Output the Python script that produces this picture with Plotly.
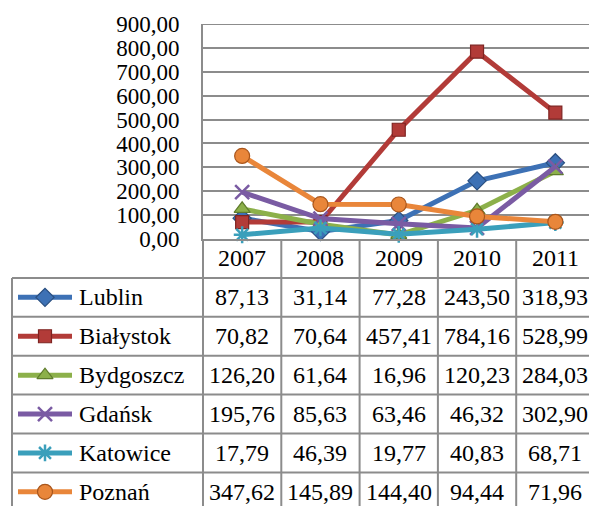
import plotly.graph_objects as go

# ---- data ----
years = ["2007", "2008", "2009", "2010", "2011"]
cities = ["Lublin", "Białystok", "Bydgoszcz", "Gdańsk", "Katowice", "Poznań"]
lublin = [87.13, 31.14, 77.28, 243.50, 318.93]
bialystok = [70.82, 70.64, 457.41, 784.16, 528.99]
bydgoszcz = [126.20, 61.64, 16.96, 120.23, 284.03]
gdansk = [195.76, 85.63, 63.46, 46.32, 302.90]
katowice = [17.79, 46.39, 19.77, 40.83, 68.71]
poznan = [347.62, 145.89, 144.40, 94.44, 71.96]
series = [lublin, bialystok, bydgoszcz, gdansk, katowice, poznan]
y_ticks = [0, 100, 200, 300, 400, 500, 600, 700, 800, 900]

# ---- styling ----
W, H = 589, 506
FONT = "Liberation Serif, serif"
FS = 24
FS_TICK = 23
GRID = "#8c8c8c"
colors = ["#3d71b5", "#b23b38", "#8cb04a", "#7a5ba3", "#3a9fbb", "#e9863a"]
edges = ["#2a4f80", "#7e2422", "#5f7c2c", "#54397a", "#227288", "#a9561c"]
symbols = ["diamond", "square", "triangle-up", "x-thin-open", "asterisk-open", "circle"]
msizes = [14, 13, 14, 14, 14, 15]

# pixel geometry of plot and data table
PLOT_L, PLOT_T, PLOT_B = 203, 24, 239
COL_W = 78.3
ROW_H = 38.9
TABLE_L = 12
LEG_X0, LEG_X1, LEG_TXT = 18, 72, 77

x_idx = list(range(len(years)))
x_max = -0.5 + (W - PLOT_L) / COL_W


def marker_style(i):
    if symbols[i].endswith("open"):
        return dict(symbol=symbols[i], size=msizes[i], color=colors[i],
                    line=dict(color=colors[i], width=2.5))
    return dict(symbol=symbols[i], size=msizes[i], color=colors[i],
                line=dict(color=edges[i], width=1.2))


fig = go.Figure()

for i, (name, vals) in enumerate(zip(cities, series)):
    fig.add_trace(go.Scatter(
        x=x_idx, y=vals, name=name, mode="lines+markers",
        line=dict(color=colors[i], width=5),
        marker=marker_style(i),
        xaxis="x", yaxis="y", showlegend=False, cliponaxis=False,
    ))

# row boundaries / centres (pixels) of the data table
row_top = [PLOT_B + ROW_H * k for k in range(len(cities) + 2)]
row_mid = [(row_top[k] + row_top[k + 1]) / 2 for k in range(len(cities) + 1)]

# legend keys inside the table, on a full-page pixel axis pair
for i, name in enumerate(cities):
    yc = row_mid[i + 1]
    fig.add_trace(go.Scatter(
        x=[LEG_X0, LEG_X1], y=[yc, yc],
        mode="lines", line=dict(color=colors[i], width=5),
        xaxis="x2", yaxis="y2", showlegend=False, hoverinfo="skip",
    ))
    fig.add_trace(go.Scatter(
        x=[(LEG_X0 + LEG_X1) / 2], y=[yc], mode="markers",
        marker=marker_style(i),
        xaxis="x2", yaxis="y2", showlegend=False, hoverinfo="skip",
    ))

shapes = []
line_style = dict(color=GRID, width=2)
# horizontal table rules
for k in range(1, len(row_top)):
    shapes.append(dict(type="line", xref="x2", yref="y2", x0=TABLE_L, x1=W + 10,
                       y0=row_top[k], y1=row_top[k], line=line_style, layer="below"))
# vertical rules between year columns
for j in range(len(years) + 1):
    xp = PLOT_L + COL_W * j
    shapes.append(dict(type="line", xref="x2", yref="y2", x0=xp, x1=xp,
                       y0=PLOT_B, y1=H + 10, line=line_style, layer="below"))
# left border of the legend column
shapes.append(dict(type="line", xref="x2", yref="y2", x0=TABLE_L, x1=TABLE_L,
                   y0=row_top[1], y1=H + 10, line=line_style, layer="below"))

txt_font = dict(family=FONT, size=FS, color="black")
annotations = []
for j, yr in enumerate(years):
    annotations.append(dict(x=j, y=row_mid[0], xref="x", yref="y2", text=yr,
                            showarrow=False, xanchor="center", yanchor="middle",
                            font=txt_font))
for i, (name, vals) in enumerate(zip(cities, series)):
    annotations.append(dict(x=LEG_TXT, y=row_mid[i + 1], xref="x2", yref="y2",
                            text=name, showarrow=False, xanchor="left",
                            yanchor="middle", font=txt_font))
    for j, v in enumerate(vals):
        annotations.append(dict(x=j, y=row_mid[i + 1], xref="x", yref="y2",
                                text=f"{v:.2f}".replace(".", ","),
                                showarrow=False, xanchor="center",
                                yanchor="middle", font=txt_font))

fig.update_layout(
    template="none",
    width=W, height=H,
    margin=dict(l=0, r=0, t=0, b=0, pad=0, autoexpand=False),
    paper_bgcolor="white", plot_bgcolor="rgba(0,0,0,0)",
    separators=", ",
    font=txt_font,
    xaxis=dict(domain=[PLOT_L / W, 1], range=[-0.5, x_max], anchor="y",
               showgrid=False, zeroline=False, showticklabels=False,
               ticks="", automargin=False,
               showline=True, linecolor=GRID, linewidth=2, fixedrange=True),
    yaxis=dict(domain=[1 - PLOT_B / H, 1 - PLOT_T / H], range=[0, 900],
               anchor="x", tickvals=y_ticks, tickformat=".2f", showgrid=True,
               gridcolor=GRID, gridwidth=2, zeroline=False,
               showline=True, linecolor=GRID, linewidth=2, automargin=False,
               ticks="", ticklabelstandoff=17, fixedrange=True,
               tickfont=dict(family=FONT, size=FS_TICK, color="black")),
    xaxis2=dict(domain=[0, 1], range=[0, W], anchor="y2", visible=False,
                automargin=False, fixedrange=True),
    yaxis2=dict(domain=[0, 1], range=[H, 0], anchor="x2", visible=False,
                automargin=False, fixedrange=True),
    shapes=shapes,
    annotations=annotations,
)

# plot-area top border
fig.add_shape(type="line", xref="x", yref="y", x0=-0.5, x1=x_max,
              y0=900, y1=900, line=dict(color=GRID, width=2))

fig.write_html("out.html")
